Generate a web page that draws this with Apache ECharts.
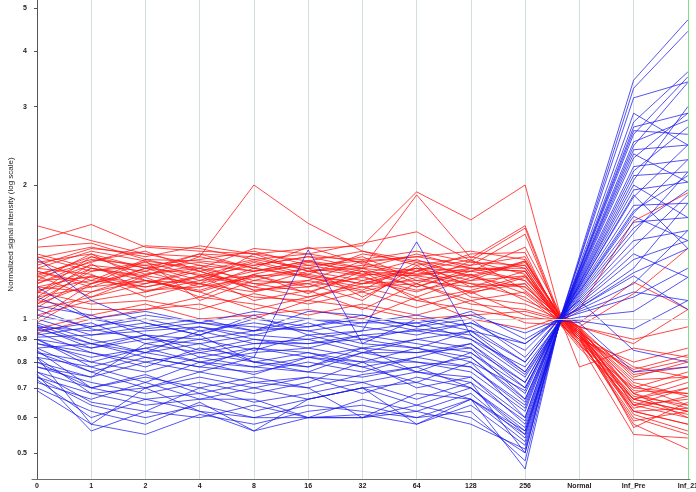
<!DOCTYPE html>
<html>
<head>
<meta charset="utf-8">
<script src="https://cdn.jsdelivr.net/npm/echarts@6/dist/echarts.min.js"></script>
<style>
html,body{margin:0;padding:0;background:#fff;}
#chart{width:696px;height:492px;}
</style>
</head>
<body>
<div id="chart"></div>
<script>
// x positions of samples: 13 labelled conditions plus the reference point just before "Normal"
const categoryLabels = ['0','1','2','4','8','16','32','64','128','256','Normal','Inf_Pre','Inf_21'];
const sampleX = [0,1,2,3,4,5,6,7,8,9,9.65,10,11,12];
const yTickValues = [0.5,0.6,0.7,0.8,0.9,1,2,3,4,5];

// red profiles (values at each sample)
const redProfiles = [
[1.62,1.50,1.40,1.38,2.00,1.64,1.42,1.35,1.30,1.28,1.00,0.92,0.66,0.62],
[1.50,1.63,1.45,1.42,1.40,1.44,1.46,1.93,1.67,2.00,1.02,0.95,0.70,0.68],
[1.37,1.45,1.38,1.46,1.40,1.35,1.30,1.90,1.37,1.62,1.01,0.93,0.62,0.58],
[1.30,1.42,1.35,1.30,1.44,1.40,1.48,1.57,1.35,1.60,0.99,0.90,0.60,0.55],
[1.25,1.38,1.30,1.34,1.28,1.32,1.35,1.38,1.32,1.55,1.00,0.91,0.58,0.51],
[1.20,1.35,1.42,1.28,1.36,1.30,1.25,1.30,1.28,1.45,1.03,0.96,0.74,0.80],
[1.15,1.30,1.25,1.38,1.30,1.45,1.33,1.28,1.40,1.41,0.98,0.88,0.55,0.54],
[1.10,1.28,1.32,1.22,1.25,1.26,1.40,1.34,1.25,1.35,1.01,0.94,0.68,0.63],
[1.06,1.25,1.20,1.30,1.22,1.20,1.28,1.25,1.30,1.30,1.00,1.05,1.66,1.92],
[1.00,1.20,1.28,1.18,1.30,1.25,1.20,1.22,1.18,1.28,0.99,0.96,1.14,1.44],
[1.35,1.22,1.18,1.25,1.18,1.28,1.22,1.30,1.22,1.25,1.02,0.98,1.21,1.05],
[1.28,1.18,1.22,1.15,1.25,1.18,1.30,1.18,1.28,1.22,1.00,0.93,0.78,0.74],
[1.22,1.40,1.30,1.20,1.15,1.22,1.15,1.24,1.15,1.20,0.97,0.86,0.66,0.70],
[1.18,1.15,1.26,1.32,1.20,1.15,1.25,1.12,1.24,1.18,1.01,0.95,0.64,0.66],
[1.12,1.33,1.15,1.22,1.34,1.24,1.18,1.20,1.10,1.15,1.00,0.91,0.76,0.81],
[1.08,1.20,1.35,1.10,1.22,1.30,1.12,1.28,1.20,1.12,0.98,0.89,0.62,0.63],
[1.30,1.26,1.12,1.20,1.12,1.10,1.22,1.15,1.26,1.10,1.02,0.96,0.90,0.96],
[1.25,1.12,1.20,1.28,1.16,1.20,1.10,1.32,1.12,1.08,1.00,0.92,0.68,0.60],
[1.40,1.30,1.24,1.12,1.26,1.14,1.28,1.10,1.16,1.25,0.99,0.90,0.59,0.62],
[1.45,1.48,1.36,1.35,1.32,1.38,1.36,1.42,1.34,1.32,1.01,0.93,0.66,0.72],
[1.02,1.10,1.15,1.25,1.10,1.16,1.05,1.20,1.08,1.05,1.00,0.94,0.72,0.67],
[1.15,1.08,1.10,1.05,1.14,1.08,1.15,1.06,1.15,1.02,0.98,0.87,0.70,0.76],
[0.98,1.15,1.22,1.15,1.05,1.12,1.18,1.10,1.05,1.00,1.00,0.92,0.62,0.58],
[1.10,1.05,1.05,1.12,1.08,1.02,1.08,1.02,1.10,0.98,0.97,0.90,0.80,0.86],
[0.95,1.02,1.08,1.00,1.02,1.05,1.00,1.12,1.00,0.95,1.01,0.96,0.88,1.05],
[1.20,1.32,1.28,1.40,1.38,1.28,1.32,1.26,1.32,1.38,1.00,0.78,0.86,0.82],
[1.32,1.44,1.40,1.32,1.28,1.35,1.42,1.32,1.38,1.30,0.99,0.91,0.67,0.64],
[1.26,1.36,1.32,1.36,1.42,1.32,1.26,1.36,1.24,1.34,1.02,0.95,0.57,0.65],
[1.18,1.25,1.18,1.24,1.32,1.38,1.30,1.40,1.30,1.22,1.00,0.92,0.69,0.68],
[1.12,1.18,1.30,1.26,1.20,1.22,1.35,1.20,1.35,1.26,0.98,0.88,0.64,0.70],
[1.05,1.12,1.25,1.20,1.28,1.35,1.26,1.25,1.20,1.18,1.01,0.94,0.73,0.74],
[1.38,1.28,1.34,1.25,1.35,1.26,1.20,1.28,1.36,1.16,1.00,0.93,0.61,0.56],
[1.22,1.24,1.16,1.18,1.24,1.30,1.38,1.22,1.26,1.14,0.99,0.90,0.66,0.62],
[1.14,1.38,1.26,1.30,1.16,1.18,1.24,1.16,1.22,1.35,1.01,0.95,0.75,0.78],
[1.28,1.20,1.30,1.40,1.30,1.24,1.16,1.34,1.18,1.20,1.00,0.91,0.63,0.67],
[1.08,1.30,1.22,1.16,1.26,1.34,1.28,1.18,1.30,1.28,0.98,0.90,0.65,0.61],
[1.16,1.22,1.36,1.28,1.18,1.12,1.20,1.30,1.14,1.24,1.00,0.93,0.71,0.64],
[1.34,1.40,1.22,1.20,1.40,1.28,1.30,1.26,1.28,1.32,1.02,0.96,0.68,0.74],
[0.93,1.00,1.05,1.08,1.00,1.10,1.06,1.00,1.02,1.04,0.99,0.91,0.77,0.83],
[1.24,1.34,1.46,1.44,1.36,1.40,1.34,1.38,1.42,1.36,1.01,0.94,0.64,0.60]
];

// blue profiles
const blueProfiles = [
[0.90,0.78,0.72,0.80,0.75,0.82,0.78,0.72,0.80,0.60,1.00,1.38,3.44,4.70],
[0.85,0.70,0.75,0.68,0.72,0.70,0.75,0.78,0.70,0.55,0.99,1.36,3.30,4.43],
[0.76,0.65,0.62,0.70,0.65,0.68,0.72,0.66,0.72,0.50,1.01,1.35,3.14,3.41],
[0.95,0.88,0.92,0.85,0.90,0.86,0.92,0.88,0.84,0.68,1.00,1.30,2.77,3.59],
[0.73,0.60,0.66,0.62,0.60,0.64,0.62,0.60,0.66,0.46,1.00,1.29,2.70,2.90],
[1.05,0.95,0.90,0.96,0.92,0.98,0.90,0.95,0.92,0.75,0.98,1.28,2.60,3.50],
[0.80,0.74,0.80,0.76,0.82,0.78,0.84,0.80,0.76,0.62,1.01,1.27,2.50,2.80],
[0.88,0.82,0.86,0.90,0.85,0.92,0.86,0.84,0.88,0.70,1.00,1.26,2.40,2.46],
[0.70,0.62,0.58,0.65,0.56,0.60,0.61,0.58,0.64,0.52,0.99,1.24,2.30,2.90],
[0.92,0.96,1.00,0.94,0.98,0.94,0.98,1.02,0.96,0.80,1.01,1.23,2.20,2.28],
[0.98,0.90,0.84,0.88,0.80,0.84,0.80,0.86,0.82,0.65,1.00,1.21,2.10,2.14],
[0.82,0.68,0.70,0.74,0.70,0.74,0.68,0.74,0.70,0.57,0.98,1.20,2.05,3.00],
[1.00,0.92,0.96,1.00,0.94,1.00,0.96,0.92,0.98,0.85,1.02,1.19,1.95,2.03],
[0.75,0.56,0.62,0.60,0.64,0.60,0.66,0.62,0.68,0.54,1.00,1.18,1.88,2.46],
[0.94,0.98,0.88,0.84,0.88,0.90,0.94,0.98,0.90,0.78,0.99,1.17,1.80,1.82],
[0.86,0.76,0.82,0.78,0.76,0.80,0.76,0.82,0.78,0.63,1.01,1.15,1.73,2.28],
[1.18,1.00,0.95,0.98,0.96,0.94,0.88,1.00,0.94,0.88,1.00,1.14,1.65,1.69],
[0.78,0.72,0.68,0.72,0.68,0.72,0.80,0.70,0.74,0.58,0.99,1.12,1.56,2.14],
[0.90,0.86,0.92,0.82,0.86,0.82,0.86,0.90,0.86,0.72,1.00,1.11,1.50,1.58],
[1.37,1.10,0.98,0.92,1.00,0.96,1.02,0.96,1.00,0.82,1.01,1.10,1.45,1.90],
[0.84,0.80,0.76,0.82,0.78,0.76,0.74,0.78,0.82,0.66,1.00,1.08,1.36,1.50],
[0.72,0.66,0.72,0.66,0.70,0.66,0.70,0.64,0.70,0.56,0.98,1.07,1.30,1.82],
[0.96,0.94,0.98,0.92,1.02,0.92,0.94,1.49,0.92,0.76,1.00,1.06,1.27,1.44],
[0.88,0.84,0.78,0.86,0.82,1.43,0.88,0.86,0.80,0.69,1.01,1.05,1.20,1.58],
[0.80,0.70,0.74,0.70,0.74,0.70,0.60,0.68,0.66,0.53,1.00,1.03,1.12,1.30],
[0.91,0.92,0.94,0.96,0.90,0.88,0.92,0.94,0.90,0.74,0.99,1.01,1.04,1.24],
[0.74,0.64,0.60,0.64,0.60,0.60,0.60,0.64,0.60,0.50,1.00,0.99,0.95,1.10],
[1.07,1.02,0.92,0.90,0.94,0.96,1.00,0.94,0.98,0.88,1.01,1.10,0.85,0.80],
[0.82,0.78,0.84,0.80,0.84,0.86,0.82,0.76,0.84,0.70,0.99,0.98,0.76,0.78],
[0.93,0.84,0.80,0.84,0.80,0.76,0.84,0.84,0.86,0.66,1.00,1.29,2.65,2.60],
[0.69,0.58,0.55,0.61,0.58,0.62,0.64,0.60,0.62,0.48,1.00,1.25,2.35,2.03],
[0.86,0.88,0.82,0.78,0.86,0.84,0.78,0.82,0.88,0.72,0.99,1.20,2.00,1.69],
[0.78,0.74,0.88,0.92,0.80,0.78,0.86,0.76,0.74,0.60,1.01,1.15,1.70,1.50],
[1.02,0.96,1.02,0.98,1.04,1.00,0.98,0.98,1.02,0.93,1.00,1.09,1.40,1.24],
[0.76,0.70,0.66,0.68,0.62,0.66,0.70,0.72,0.66,0.56,1.00,1.13,1.60,1.95],
[0.84,0.76,0.70,0.76,0.72,0.74,0.72,0.76,0.72,0.59,0.99,1.32,2.90,2.46],
[0.97,0.88,0.84,0.94,0.88,0.88,0.90,0.86,0.94,0.80,1.01,1.18,1.90,1.44],
[0.90,0.80,0.86,0.80,0.78,0.82,0.80,0.80,0.78,0.64,1.00,1.06,1.25,1.05],
[0.74,0.68,0.64,0.66,0.66,0.60,0.60,0.62,0.58,0.51,1.00,1.26,2.45,3.40],
[0.96,0.86,0.90,0.88,0.92,0.90,0.84,0.90,0.94,0.76,0.99,1.04,1.15,1.10],
[0.82,0.58,0.70,0.62,0.56,0.66,0.70,0.58,0.66,0.55,1.00,1.22,2.15,2.70],
[1.12,1.00,1.04,0.98,0.94,1.04,1.02,0.96,1.04,0.90,1.00,1.16,1.75,2.10]
];

const chart = echarts.init(document.getElementById('chart'), null, {renderer: 'canvas'});

const gridColors = [];
for (let i = 0; i < categoryLabels.length; i++) gridColors.push(i === categoryLabels.length - 1 ? '#7ee07e' : '#d3dee2');

function toSeries(profiles, color, name) {
  return profiles.map((p, k) => ({
    type: 'line',
    name: name + (k + 1),
    data: p.map((v, i) => [sampleX[i], v]),
    symbol: 'none',
    silent: true,
    animation: false,
    lineStyle: {color: color, width: 1},
    z: 3
  }));
}

const series = [].concat(
  [{
    type: 'line', data: [], silent: true, animation: false, z: 1,
    markLine: {
      silent: true, symbol: 'none', label: {show: false}, animation: false,
      lineStyle: {color: '#d8d8d8', width: 1, type: 'solid'},
      data: [{yAxis: 1}]
    }
  }],
  toSeries(redProfiles, 'rgba(255,20,20,0.78)', 'r'),
  toSeries(blueProfiles, 'rgba(20,20,235,0.72)', 'b')
);

chart.setOption({
  backgroundColor: '#ffffff',
  animation: false,
  grid: {left: 32, right: 6, top: 0, bottom: 13, outerBoundsMode: 'none', containLabel: false},
  xAxis: {
    type: 'value',
    min: -0.092,
    max: 12.04,
    axisLine: {show: true, lineStyle: {color: '#6f6f6f', width: 1}},
    axisTick: {show: false, customValues: [0,1,2,3,4,5,6,7,8,9,10,11,12]},
    axisLabel: {
      customValues: [0,1,2,3,4,5,6,7,8,9,10,11,12],
      formatter: v => categoryLabels[Math.round(v)],
      fontFamily: 'Liberation Sans, Arial, sans-serif',
      fontWeight: 'bold', fontSize: 7, color: '#222', margin: 4
    },
    splitLine: {show: true, lineStyle: {color: gridColors, width: 1}}
  },
  yAxis: {
    type: 'log',
    logBase: 10,
    min: 0.4368,
    max: 5.21,
    name: 'Normalized signal intensity (log scale)',
    nameLocation: 'middle',
    nameGap: 17,
    nameRotate: 90,
    nameMoveOverlap: false,
    nameTextStyle: {fontFamily: 'Liberation Sans, Arial, sans-serif', fontSize: 8, color: '#222', padding: [0, 0, 0, 30]},
    axisLine: {show: true, lineStyle: {color: '#555', width: 1}},
    axisTick: {show: true, length: 3, inside: false, customValues: yTickValues, lineStyle: {color: '#555'}},
    axisLabel: {
      customValues: yTickValues,
      formatter: v => String(v),
      fontFamily: 'Liberation Sans, Arial, sans-serif',
      fontWeight: 'bold', fontSize: 7, color: '#222', margin: 5
    },
    splitLine: {show: false}
  },
  series: series
});
</script>
</body>
</html>
